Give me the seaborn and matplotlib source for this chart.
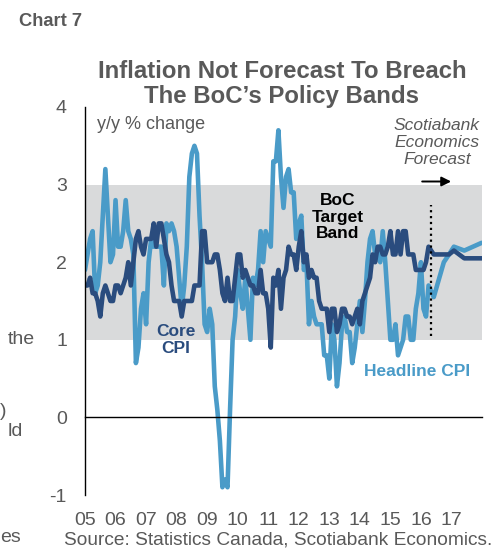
import numpy as np
import pandas as pd
import seaborn as sns
import matplotlib
matplotlib.use('Agg')
import matplotlib.pyplot as plt

# monthly y/y % change, Jan 2005 - Apr 2016
headline = [
    1.9, 2.1, 2.3, 2.4, 1.6, 1.7, 2.0, 2.6, 3.2, 2.6, 2.0, 2.1,
    2.8, 2.2, 2.2, 2.4, 2.8, 2.4, 2.3, 2.1, 0.7, 0.9, 1.4, 1.6,
    1.2, 2.0, 2.3, 2.2, 2.2, 2.2, 2.2, 1.7, 2.5, 2.4, 2.5, 2.4,
    2.2, 1.8, 1.4, 1.7, 2.2, 3.1, 3.4, 3.5, 3.4, 2.6, 2.0, 1.2,
    1.1, 1.4, 1.2, 0.4, 0.1, -0.3, -0.9, -0.8, -0.9, 0.1, 1.0, 1.3,
    1.9, 1.6, 1.4, 1.8, 1.4, 1.0, 1.8, 1.7, 1.9, 2.4, 2.0, 2.4,
    2.3, 2.2, 3.3, 3.3, 3.7, 3.1, 2.7, 3.1, 3.2, 2.9, 2.9, 2.3,
    2.5, 2.6, 1.9, 2.0, 1.2, 1.5, 1.3, 1.2, 1.2, 1.2, 0.8, 0.8,
    0.5, 1.2, 1.0, 0.4, 0.7, 1.2, 1.3, 1.1, 1.1, 0.7, 0.9, 1.2,
    1.5, 1.1, 1.5, 2.0, 2.3, 2.4, 2.1, 2.1, 2.0, 2.4, 2.0, 1.5,
    1.0, 1.0, 1.2, 0.8, 0.9, 1.0, 1.3, 1.3, 1.0, 1.0, 1.4, 1.6,
    2.0, 1.4, 1.3, 1.7,
]
core = [
    1.7, 1.7, 1.8, 1.6, 1.6, 1.5, 1.3, 1.6, 1.7, 1.6, 1.5, 1.5,
    1.7, 1.7, 1.6, 1.7, 1.8, 2.0, 1.7, 2.0, 2.3, 2.4, 2.2, 2.1,
    2.3, 2.3, 2.3, 2.5, 2.2, 2.5, 2.5, 2.3, 2.1, 2.0, 1.7, 1.5,
    1.5, 1.5, 1.3, 1.5, 1.5, 1.5, 1.5, 1.7, 1.7, 1.7, 2.4, 2.4,
    2.0, 2.0, 2.0, 2.1, 2.1, 1.9, 1.6, 1.5, 1.8, 1.5, 1.5, 1.8,
    2.1, 2.1, 1.8, 1.9, 1.8, 1.7, 1.7, 1.6, 1.6, 1.9, 1.6, 1.6,
    1.4, 0.9, 1.8, 1.7, 1.9, 1.4, 1.8, 1.9, 2.2, 2.1, 2.1, 1.9,
    2.2, 2.4, 2.0, 2.1, 1.8, 1.9, 1.8, 1.8, 1.5, 1.4, 1.4, 1.4,
    1.1, 1.4, 1.4, 1.1, 1.2, 1.4, 1.4, 1.3, 1.3, 1.2, 1.3, 1.4,
    1.2, 1.5, 1.6, 1.7, 1.8, 2.1, 2.0, 2.2, 2.2, 2.1, 2.1, 2.2,
    2.4, 2.1, 2.1, 2.4, 2.1, 2.4, 2.4, 2.1, 2.1, 2.1, 1.9, 1.9,
    1.9, 1.9, 2.0, 2.2,
]

# Scotiabank forecast
fc_head_x = [2016.42, 2016.75, 2016.92, 2017.08, 2017.42, 2017.99]
fc_head = [1.55, 2.0, 2.1, 2.2, 2.15, 2.25]
fc_core_x = [2016.42, 2016.92, 2017.08, 2017.42, 2017.99]
fc_core = [2.1, 2.1, 2.15, 2.05, 2.05]

tick_years = list(range(2005, 2019))
tick_labels = ['05', '06', '07', '08', '09', '10', '11', '12', '13', '14', '15', '16', '17', '']

actual_x = 2005 + np.arange(len(headline)) / 12
df = pd.concat([
    pd.DataFrame({'year': np.r_[actual_x, fc_head_x], 'value': headline + fc_head, 'series': 'Headline CPI'}),
    pd.DataFrame({'year': np.r_[actual_x, fc_core_x], 'value': core + fc_core, 'series': 'Core CPI'}),
])

LIGHT = '#4a9bc8'
DARK = '#2a4c7e'
GREY = '#595959'

sns.set_style('white')
plt.rcParams['font.family'] = ['Liberation Sans', 'DejaVu Sans']
plt.rcParams['axes.unicode_minus'] = False

fig = plt.figure(figsize=(4.97, 5.52), dpi=100)
ax = fig.add_axes([85/497, 57/552, 397/497, 388/552])

ax.axhspan(1, 3, color='#d9dadb', lw=0, zorder=0)
sns.lineplot(data=df, x='year', y='value', hue='series',
             hue_order=['Headline CPI', 'Core CPI'],
             palette={'Headline CPI': LIGHT, 'Core CPI': DARK},
             estimator=None, linewidth=3.3, legend=False, ax=ax)

ax.set_xlim(2005, 2018)
ax.set_ylim(-1, 4)
ax.set_xlabel('')
ax.set_ylabel('')
for s in ['top', 'right']:
    ax.spines[s].set_visible(False)
ax.spines['left'].set_color('black')
ax.spines['left'].set_linewidth(1)
ax.spines['bottom'].set_position(('data', 0))
ax.spines['bottom'].set_color('black')
ax.spines['bottom'].set_linewidth(1)

ax.set_xticks(tick_years)
ax.tick_params(axis='x', direction='out', length=5, width=1, color='black', labelbottom=False)
ax.set_yticks(range(-1, 5))
ax.set_yticklabels([str(v) for v in range(-1, 5)])
ax.tick_params(axis='y', direction='out', length=3, width=1, color='black', pad=10,
               labelsize=14, labelcolor=GREY)

sec = ax.secondary_xaxis('bottom')
sec.set_xticks(tick_years, labels=tick_labels)
sec.tick_params(length=0, pad=12, labelsize=14, labelcolor=GREY)
sec.spines['bottom'].set_visible(False)

# forecast marker
ax.vlines(2016.33, 1.05, 2.74, colors='black', linestyles=':', linewidth=1.6)
ax.annotate('', xy=(2017.08, 3.04), xytext=(2015.95, 3.04),
            arrowprops=dict(arrowstyle='-|>', color='black', lw=1.4, mutation_scale=14))

ax.text(2005.4, 3.78, 'y/y % change', fontsize=13, color=GREY, ha='left', va='center')
ax.text(2016.52, 3.54, 'Scotiabank\nEconomics\nForecast', fontsize=12.5, style='italic',
        color=GREY, ha='center', va='center', linespacing=1.15)
ax.text(2013.28, 2.58, 'BoC\nTarget\nBand', fontsize=12.5, fontweight='bold',
        color='black', ha='center', va='center', linespacing=1.1)
ax.text(2007.98, 1.0, 'Core\nCPI', fontsize=12.5, fontweight='bold',
        color=DARK, ha='center', va='center', linespacing=1.15)
ax.text(2015.88, 0.59, 'Headline CPI', fontsize=12.5, fontweight='bold',
        color=LIGHT, ha='center', va='center')

fig.text(282/497, 1 - 84/552, 'Inflation Not Forecast To Breach\nThe BoC\u2019s Policy Bands',
         fontsize=17.3, fontweight='bold', color=GREY, ha='center', va='center', linespacing=1.12)
fig.text(19/497, 1 - 22/552, 'Chart 7', fontsize=13.2, fontweight='bold', color=GREY,
         ha='left', va='center')
fig.text(492/497, 1 - 540/552, 'Source: Statistics Canada, Scotiabank Economics.',
         fontsize=13.8, color=GREY, ha='right', va='center')

# cut-off words of the surrounding page text
for word, xr, yc in [('the', 35, 339), (')', 6, 411), ('ld', 23, 432), ('es', 21, 537)]:
    fig.text(xr/497, 1 - yc/552, word, fontsize=14, color=GREY, ha='right', va='center')

fig.savefig('out.png', dpi=100)
